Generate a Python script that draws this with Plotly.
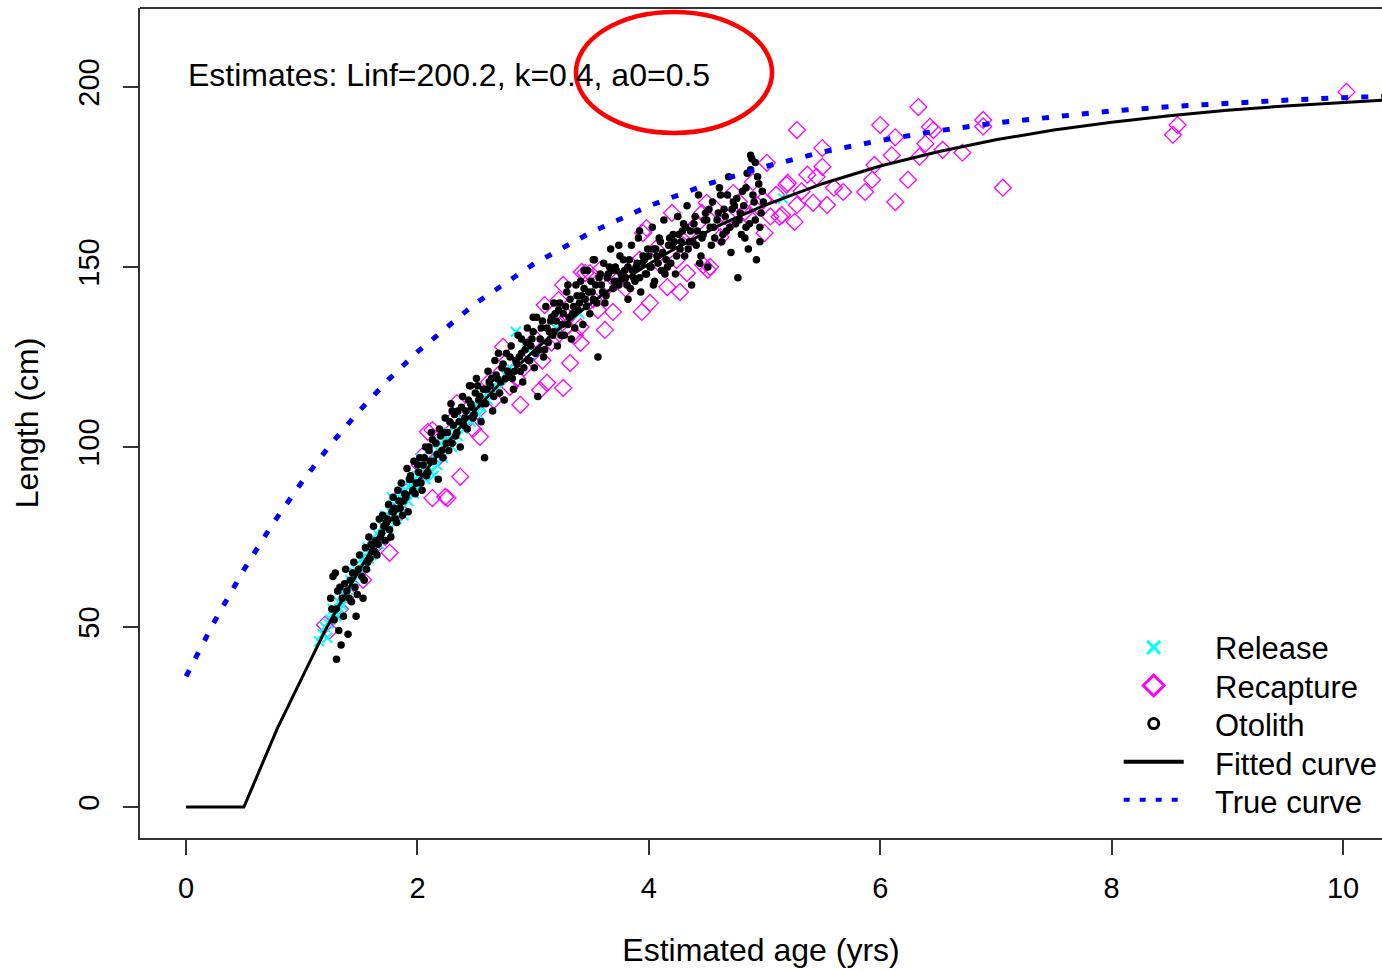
import plotly.graph_objects as go

# ---------------- data ----------------
# Fitted curve (Linf=200.2, k=0.4, a0=0.5) – values read at these ages
fit_age = [0, 0.5, 0.79, 1.2, 1.4, 1.6, 1.8, 2.0, 2.2, 2.4, 2.6, 2.8, 3.0, 3.2, 3.4, 3.6, 3.8,
           4.0, 4.2, 4.4, 4.6, 4.8, 5.0, 5.5, 6.0, 6.5, 7.0, 7.5, 8.0, 8.5, 9.0, 9.5, 10.0, 10.4]
fit_len = [0, 0, 21.9, 48.9, 60.5, 71.3, 81.2, 90.3, 98.8, 106.6, 113.8, 120.4, 126.5, 132.2,
           137.4, 142.3, 146.7, 150.8, 154.6, 158.1, 161.4, 164.3, 167.1, 173.1, 178.0, 182.0,
           185.3, 188.0, 190.2, 192.0, 193.5, 194.7, 195.7, 196.4]

# True curve
true_age = [0, 0.25, 0.5, 0.75, 1.0, 1.25, 1.5, 1.75, 2.0, 2.5, 3.0, 3.5, 4.0, 4.5, 5.0, 5.5,
            6.0, 6.5, 7.0, 7.5, 8.0, 8.5, 9.0, 9.5, 10.0, 10.4]
true_len = [36.3, 51.8, 65.9, 78.7, 90.2, 100.7, 110.1, 118.7, 126.4, 139.8, 150.7, 159.6,
            166.9, 172.9, 177.8, 181.9, 185.1, 187.8, 190.0, 191.8, 193.3, 194.5, 195.5,
            196.3, 197.0, 197.4]

# Release (cyan x)
rel_age = [1.15, 1.18, 1.20, 1.22, 1.25, 1.27, 1.30, 1.32, 1.35, 1.37,
           1.40, 1.42, 1.45, 1.47, 1.50, 1.52, 1.55, 1.57, 1.60, 1.62,
           1.65, 1.67, 1.70, 1.72, 1.75, 1.77, 1.80, 1.82, 1.85, 1.87,
           1.90, 1.92, 1.95, 1.97, 2.00, 2.02, 2.05, 2.07, 2.10, 2.12,
           2.15, 2.17, 2.20, 2.22, 2.25, 2.27, 2.30, 2.32, 2.35, 2.37,
           2.40, 2.43, 2.46, 2.50, 2.53, 2.57, 2.61, 2.66, 2.72, 2.80,
           2.85, 2.95, 3.05, 3.20, 3.40, 1.78, 1.88, 2.03, 5.16, 2.14,
           1.23, 1.28, 1.33, 1.38, 1.43, 1.48, 1.53, 1.58, 1.63, 1.68,
           1.73, 1.78, 1.83, 1.88, 1.93, 1.98, 2.08, 2.18, 2.28, 2.38,
           2.48, 2.55, 2.63, 2.70, 2.76, 1.46, 1.61, 1.91, 2.23, 2.45]
rel_len = [46, 48, 50, 47, 52, 55, 53, 57, 56, 60,
           58, 63, 61, 66, 65, 69, 67, 72, 70, 74,
           76, 73, 78, 81, 77, 82, 84, 80, 86, 83,
           88, 85, 90, 87, 92, 89, 94, 91, 96, 93,
           98, 95, 101, 97, 102, 104, 100, 106, 103, 108,
           105, 110, 107, 112, 109, 114, 113, 117, 119, 122,
           132, 127, 126, 133, 137, 86, 81, 97, 169, 92,
           51, 54, 55, 59, 62, 64, 68, 69, 73, 75,
           79, 80, 83, 86, 89, 90, 95, 99, 103, 106,
           111, 111, 116, 116, 120, 65, 72, 87, 100, 108]

# Recapture (magenta open diamonds)
rec_age = [6.33, 5.28, 6.00, 6.13, 6.43, 6.46, 6.89, 6.89, 5.50, 6.39,
           6.54, 6.10, 6.71, 5.50, 5.95, 6.34, 5.37, 5.45, 5.19, 5.93,
           6.24, 5.68, 5.87, 7.06, 5.28, 5.42, 5.54, 6.13, 5.13, 5.26,
           5.00, 8.57, 8.53, 10.03, 5.02, 5.20, 4.90, 4.73, 4.50, 4.99,
           5.15, 4.83, 4.68, 4.20, 3.98, 3.95, 4.62, 4.47, 4.53, 4.24,
           4.16, 4.27, 4.01, 3.94, 4.33, 3.69, 3.62, 3.41, 3.49, 3.42,
           3.26, 3.22, 3.10, 3.29, 3.20, 3.26, 3.06, 3.12, 2.89, 2.80,
           2.74, 3.41, 3.32, 3.58, 2.37, 2.26, 2.13, 2.34, 2.54, 2.13,
           1.76, 1.85, 1.53, 1.20, 2.09, 2.24, 3.45, 4.51, 1.24, 1.33,
           1.62, 1.72, 1.92, 2.02, 2.18, 2.28, 2.42, 2.52, 2.62, 2.70,
           2.78, 2.92, 3.02, 3.16, 3.30, 3.52, 3.72, 3.86, 4.06, 4.36,
           4.42, 4.58, 4.66, 4.78, 4.86, 4.94, 5.05, 5.10, 5.32, 5.60,
           1.40, 1.58, 1.86, 1.98, 2.06, 2.32, 2.48, 2.66, 2.86, 2.98,
           3.08, 3.24, 3.36, 3.56, 3.66, 3.80, 3.92, 4.12, 4.30, 4.46]
rec_len = [194.4, 188.0, 189.4, 186.0, 188.9, 188.0, 190.8, 189.0, 183.0, 184.2,
           182.5, 181.0, 181.7, 177.8, 178.3, 180.6, 175.6, 175.0, 172.8, 174.2,
           174.2, 170.8, 170.8, 172.0, 167.2, 167.8, 167.2, 168.0, 163.9, 162.5,
           159.4, 189.4, 186.7, 198.6, 178.9, 173.3, 173.6, 170.5, 167.8, 168.6,
           164.4, 165.3, 163.6, 165.0, 160.8, 159.4, 158.3, 150.5, 150.0, 151.9,
           144.4, 143.0, 140.0, 137.5, 148.3, 137.5, 132.5, 133.3, 148.3, 148.6,
           145.0, 140.8, 139.4, 133.3, 130.6, 116.4, 115.8, 117.8, 111.7, 116.7,
           127.8, 128.9, 123.3, 149.2, 91.7, 85.8, 104.7, 112.2, 102.8, 85.8,
           70.6, 86.1, 63.1, 50.6, 104.2, 86.1, 148.3, 149.2, 49.0, 55.0,
           72, 75, 88, 95, 97, 104, 107, 110, 118, 120,
           124, 122, 130, 129, 136, 141, 146, 150, 155, 160,
           162, 166, 161, 168, 164, 167, 164, 170, 171, 172,
           59, 70, 82, 91, 98, 108, 105, 113, 119, 126,
           124, 134, 131, 138, 145, 144, 152, 150, 156, 165]

# Otolith (black dots)
oto_age = [1.25, 1.27, 1.28, 1.30, 1.30, 1.32, 1.33, 1.35, 1.36, 1.38,
           1.39, 1.40, 1.42, 1.43, 1.45, 1.46, 1.48, 1.50, 1.52, 1.53,
           1.55, 1.56, 1.58, 1.59, 1.61, 1.62, 1.64, 1.65, 1.67, 1.69,
           1.70, 1.72, 1.73, 1.75, 1.76, 1.78, 1.79, 1.81, 1.83, 1.85,
           1.86, 1.88, 1.89, 1.91, 1.92, 1.94, 1.96, 1.97, 1.99, 2.01,
           2.02, 2.04, 2.05, 2.07, 2.09, 2.10, 2.12, 2.14, 2.16, 2.18,
           2.20, 2.22, 2.24, 2.25, 2.27, 2.29, 2.31, 2.33, 2.35, 2.37,
           2.39, 2.41, 2.43, 2.45, 2.47, 2.49, 2.51, 2.53, 2.55, 2.57,
           2.59, 2.61, 2.63, 2.65, 2.67, 2.69, 2.71, 2.73, 2.75, 2.77,
           2.79, 2.81, 2.83, 2.85, 2.87, 2.89, 2.91, 2.93, 2.95, 2.97,
           2.99, 3.01, 3.03, 3.05, 3.07, 3.09, 3.11, 3.13, 3.15, 3.17,
           3.19, 3.21, 3.23, 3.25, 3.27, 3.29, 3.31, 3.33, 3.35, 3.37,
           3.39, 3.41, 3.43, 3.45, 3.47, 3.49, 3.51, 3.53, 3.55, 3.57,
           3.59, 3.61, 3.63, 3.65, 3.67, 3.69, 3.71, 3.73, 3.75, 3.77,
           3.79, 3.81, 3.83, 3.85, 3.87, 3.89, 3.91, 3.93, 3.95, 3.97,
           3.99, 4.01, 4.03, 4.05, 4.07, 4.09, 4.11, 4.13, 4.15, 4.17,
           4.19, 4.21, 4.23, 4.25, 4.27, 4.29, 4.31, 4.33, 4.35, 4.37,
           4.39, 4.41, 4.43, 4.45, 4.47, 4.49, 4.51, 4.53, 4.55, 4.57,
           4.59, 4.61, 4.63, 4.65, 4.67, 4.69, 4.71, 4.73, 4.75, 4.77,
           4.79, 4.81, 4.83, 4.85, 4.87, 4.89, 4.91, 4.93, 4.95, 4.97,
           1.29, 1.34, 2.58, 3.04, 3.56, 4.88, 4.92, 4.98, 4.86, 1.47,
           1.57, 1.82, 2.08, 2.36, 2.62, 2.88, 3.14, 3.42, 3.68, 3.94,
           4.22, 4.48, 4.74, 4.96, 2.46, 3.26, 3.84, 4.14, 4.62, 4.44,
           1.66, 1.94, 2.26, 2.54, 2.84, 3.36, 3.62, 3.88, 4.04, 4.32,
           1.26, 1.31, 1.37, 1.41, 1.44, 1.49, 1.54, 1.60, 1.63, 1.68,
           1.71, 1.74, 1.77, 1.80, 1.84, 1.87, 1.90, 1.93, 1.98, 2.00,
           2.03, 2.06, 2.11, 2.13, 2.17, 2.19, 2.21, 2.23, 2.28, 2.30,
           2.32, 2.34, 2.38, 2.40, 2.42, 2.44, 2.48, 2.50, 2.52, 2.56,
           2.60, 2.64, 2.66, 2.68, 2.72, 2.74, 2.76, 2.78, 2.80, 2.82,
           2.86, 2.90, 2.92, 2.94, 2.96, 2.98, 3.00, 3.02, 3.06, 3.08,
           3.10, 3.12, 3.16, 3.18, 3.20, 3.22, 3.24, 3.28, 3.30, 3.32,
           3.34, 3.38, 3.40, 3.44, 3.46, 3.48, 3.50, 3.52, 3.54, 3.58,
           3.60, 3.64, 3.66, 3.70, 3.72, 3.74, 3.76, 3.78, 3.80, 3.82,
           3.86, 3.90, 3.92, 3.96, 3.98, 4.00, 4.02, 4.06, 4.08, 4.10,
           4.12, 4.16, 4.18, 4.20, 4.24, 4.26, 4.28, 4.30, 4.34, 4.36,
           4.38, 4.40, 4.42, 4.46, 4.50, 4.52, 4.54, 4.56, 4.60, 4.64,
           4.66, 4.68, 4.70, 4.72, 4.76, 4.78, 4.80, 4.82, 4.84, 4.90,
           4.92, 4.94, 4.99, 4.96, 4.88, 4.84, 3.74, 3.82, 3.92, 4.04,
           3.52, 3.44, 3.30, 3.18, 3.00, 2.90, 2.70, 2.46, 2.30, 2.10]
oto_len = [58, 64, 52, 41, 55, 49, 61, 58, 53, 66,
           60, 48, 63, 57, 68, 61, 59, 70, 64, 58,
           72, 66, 75, 69, 71, 78, 74, 70, 80, 76,
           81, 74, 79, 84, 77, 82, 86, 80, 88, 83,
           90, 85, 87, 94, 82, 91, 88, 96, 90, 93,
           97, 88, 95, 100, 93, 99, 104, 96, 101, 91,
           103, 97, 108, 101, 99, 112, 106, 103, 110, 100,
           114, 108, 105, 117, 111, 109, 119, 113, 107, 116,
           112, 121, 117, 110, 124, 119, 115, 122, 113, 126,
           120, 128, 116, 124, 131, 121, 118, 127, 133, 124,
           130, 122, 136, 127, 133, 125, 139, 129, 135, 131,
           137, 128, 140, 134, 131, 143, 136, 130, 139, 145,
           138, 146, 134, 141, 149, 137, 143, 152, 140, 147,
           145, 151, 142, 148, 155, 144, 150, 146, 153, 147,
           149, 145, 152, 156, 147, 150, 158, 143, 153, 148,
           155, 150, 161, 146, 153, 158, 149, 163, 152, 156,
           151, 159, 148, 164, 155, 160, 153, 167, 157, 145,
           162, 156, 170, 153, 159, 165, 150, 161, 168, 158,
           163, 172, 157, 166, 160, 175, 154, 168, 162, 147,
           165, 171, 158, 176, 162, 180, 168, 152, 173, 165,
           65, 45, 97, 114, 125, 181, 179, 171, 155, 53,
           68, 79, 92, 107, 118, 125, 132, 142, 149, 151,
           157, 163, 167, 161, 112, 137, 144, 148, 170, 151,
           73, 92, 104, 114, 121, 133, 140, 146, 155, 161,
           55, 60, 62, 58, 65, 66, 63, 73, 71, 75,
           78, 80, 75, 83, 85, 81, 86, 91, 87, 95,
           90, 97, 96, 102, 98, 105, 99, 104, 107, 101,
           109, 104, 111, 106, 110, 113, 108, 115, 117, 112,
           116, 119, 114, 120, 118, 123, 119, 121, 125, 119,
           123, 126, 122, 129, 124, 128, 132, 126, 130, 135,
           127, 133, 136, 132, 135, 138, 131, 139, 134, 141,
           137, 142, 140, 144, 139, 143, 146, 141, 145, 148,
           143, 147, 150, 146, 149, 145, 148, 152, 147, 150,
           149, 151, 147, 152, 148, 153, 150, 155, 151, 157,
           154, 150, 158, 156, 153, 159, 157, 162, 155, 160,
           157, 164, 160, 158, 163, 166, 156, 161, 165, 159,
           164, 170, 161, 166, 169, 163, 159, 167, 172, 170,
           163, 175, 168, 157, 177, 161, 156, 141, 160, 145,
           152, 149, 145, 140, 136, 130, 126, 117, 110, 100]

annot_text = "Estimates: Linf=200.2, k=0.4, a0=0.5"
legend_names = ["Release", "Recapture", "Otolith", "Fitted curve", "True curve"]
x_ticks = [0, 2, 4, 6, 8, 10]
y_ticks = [0, 50, 100, 150, 200]

# ---------------- figure ----------------
FONT = "Liberation Sans, Arial, sans-serif"
CYAN, MAG, BLUE = "#00FFFF", "#FF00FF", "#0000FF"

fig = go.Figure()
fig.add_trace(go.Scatter(x=rec_age, y=rec_len, mode="markers", showlegend=False,
                         marker=dict(symbol="diamond-open", size=13, color=MAG,
                                     line=dict(width=1.3, color=MAG))))
fig.add_trace(go.Scatter(x=rel_age, y=rel_len, mode="markers", showlegend=False,
                         marker=dict(symbol="x-thin-open", size=10, color=CYAN,
                                     line=dict(width=2, color=CYAN))))
fig.add_trace(go.Scatter(x=oto_age, y=oto_len, mode="markers", showlegend=False,
                         marker=dict(symbol="circle", size=7.5, color="black",
                                     line=dict(width=0))))
fig.add_trace(go.Scatter(x=fit_age, y=fit_len, mode="lines", showlegend=False,
                         line=dict(color="black", width=3)))
fig.add_trace(go.Scatter(x=true_age, y=true_len, mode="lines", showlegend=False,
                         line=dict(color=BLUE, width=5, dash="7px,13px")))

# legend symbols (R-style legend); the label texts are placed as annotations below
legend_markers = [
    dict(mode="markers", marker=dict(symbol="x-thin-open", size=13, color=CYAN,
                                     line=dict(width=3, color=CYAN))),
    dict(mode="markers", marker=dict(symbol="diamond-open", size=18, color=MAG,
                                     line=dict(width=3, color=MAG))),
    dict(mode="markers", marker=dict(symbol="circle-open", size=10, color="black",
                                     line=dict(width=3, color="black"))),
    dict(mode="lines", line=dict(color="black", width=4)),
    dict(mode="lines", line=dict(color=BLUE, width=4, dash="6px,10px")),
]
for i, spec in enumerate(legend_markers):
    fig.add_trace(go.Scatter(x=[None], y=[None], name="\u00a0" * (i + 1), **spec))

legend_rows_px = [648, 687, 725, 764, 802]
for name, ypx in zip(legend_names, legend_rows_px):
    fig.add_annotation(x=(1213 - 140) / 1242, y=(838 - ypx) / 830, xref="paper", yref="paper",
                       text=name, showarrow=False, xanchor="left", yanchor="middle",
                       font=dict(family=FONT, size=31, color="black"))

fig.add_annotation(x=0.0, y=203.3, xref="x", yref="y", text=annot_text, showarrow=False,
                   xanchor="left", yanchor="middle",
                   font=dict(family=FONT, size=32, color="black"))

# red highlight ellipse
fig.add_shape(type="circle", xref="x", yref="y", x0=3.37, x1=5.065, y0=187.2, y1=220.8,
              line=dict(color="#FF0000", width=4.5))
# top border of plot box (right border falls outside the image)
fig.add_shape(type="line", xref="paper", yref="paper", x0=0, x1=1, y0=1, y1=1,
              line=dict(color="#333333", width=2))

fig.update_layout(
    width=1382, height=972,
    margin=dict(l=140, r=0, t=8, b=134),
    paper_bgcolor="white", plot_bgcolor="white",
    font=dict(family=FONT, color="black"),
    showlegend=True,
    legend=dict(x=0.788, y=0.2586, xanchor="left", yanchor="top",
                bgcolor="rgba(0,0,0,0)", borderwidth=0,
                font=dict(family=FONT, size=27, color="black"),
                itemwidth=60, tracegroupgap=0),
)
fig.update_xaxes(range=[-0.398, 10.337], tickvals=x_ticks, ticks="outside", ticklen=15,
                 tickwidth=2, tickcolor="#333333", showline=True, linecolor="#333333",
                 linewidth=2, showgrid=False, zeroline=False,
                 tickfont=dict(family=FONT, size=29, color="black"), ticklabelstandoff=8,
                 title=dict(text="Estimated age (yrs)", font=dict(family=FONT, size=32),
                            standoff=36))
fig.update_yaxes(range=[-8.61, 221.9], tickvals=y_ticks, ticks="outside", ticklen=15,
                 tickwidth=2, tickcolor="#333333", showline=True, linecolor="#333333",
                 linewidth=2, showgrid=False, zeroline=False, tickangle=-90,
                 tickfont=dict(family=FONT, size=29, color="black"), ticklabelstandoff=12,
                 title=dict(text="Length (cm)", font=dict(family=FONT, size=32),
                            standoff=25))

fig.write_html("out.html")
